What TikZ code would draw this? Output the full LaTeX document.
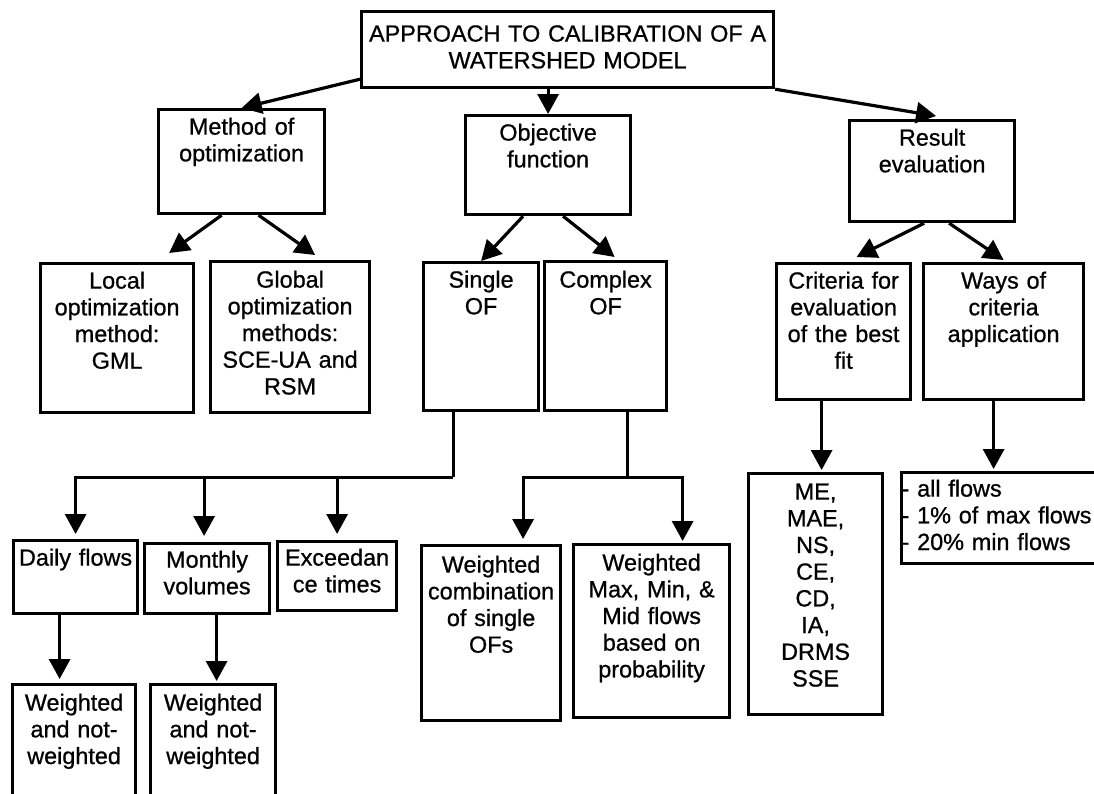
\documentclass[tikz,border=0pt]{standalone}
\usepackage{fontspec}
\setmainfont[FakeBold=0.8]{Liberation Sans}
\usetikzlibrary{arrows.meta,calc}
\begin{document}
\begin{tikzpicture}[x=1pt,y=-1pt,
  block/.style={draw, line width=3.2pt, anchor=north west, inner xsep=0pt,
    inner ysep=0pt, align=center, text height=25pt,
    font=\fontsize{23.4pt}{26.7pt}\selectfont},
  conn/.style={line width=3.2pt},
  arr/.style={conn, -{Triangle[length=20pt,width=21pt]}}]

\useasboundingbox (0,0) rectangle (1094,793);
\fill[white] (0,0) rectangle (1094,793);
\clip (0,0) rectangle (1094,793);

% root
\node[block, text width=412pt, text height=30pt, text depth=46pt] (top) at (360,10)
  {APPROACH TO CALIBRATION OF A\\WATERSHED MODEL};

% second level
\node[block, text width=166pt, text depth=79pt] (meth) at (157,108) {Method of\\optimization};
\node[block, text width=165pt, text depth=74pt] (obj) at (464,114) {Objective\\function};
\node[block, text width=165pt, text depth=76pt] (res) at (848,119) {Result\\evaluation};

% third level
\node[block, text width=153pt, text depth=124pt] (loc) at (39,262)
  {Local\\optimization\\method:\\GML};
\node[block, text width=159pt, text height=26pt, text depth=125pt] (glob) at (209,260)
  {Global\\optimization\\methods:\\SCE-UA and\\RSM};
\node[block, text width=115pt, text depth=123pt] (sgl) at (422,261) {Single\\OF};
\node[block, text width=122pt, text height=26pt, text depth=123pt] (cpx) at (543,260) {Complex\\OF};
\node[block, text width=134pt, text depth=111pt] (crit) at (775,262)
  {Criteria for\\evaluation\\of the best\\fit};
\node[block, text width=160pt, text depth=111pt] (ways) at (922,262)
  {Ways of\\criteria\\application};

% fourth level
\node[block, text width=124pt, text depth=48pt] (daily) at (12,539) {Daily flows};
\node[block, text width=125pt, text height=24pt, text depth=46pt] (mon) at (143,542) {Monthly\\volumes};
\node[block, text width=119pt, text height=24pt, text depth=45pt] (exc) at (276,540) {Exceedan\\ce times};
\node[block, text width=139pt, text height=27pt, text depth=148pt] (wcomb) at (420,544)
  {Weighted\\combination\\of single\\OFs};
\node[block, text width=156pt, text height=26pt, text depth=147pt] (wmax) at (572,543)
  {Weighted\\Max, Min, \&\\Mid flows\\based on\\probability};
\node[block, text width=134pt, text height=26pt, text depth=215pt] (me) at (747,472)
  {ME,\\MAE,\\NS,\\CE,\\CD,\\IA,\\DRMS\\SSE};
\node[block, align=left, text width=220pt, text height=24pt, text depth=67pt] (flows) at (900,471)
  {- all flows\\- 1\% of max flows\\- 20\% min flows};

% fifth level
\node[block, text width=123pt, text height=26pt, text depth=124pt] (wn1) at (11,683)
  {Weighted\\and not-\\weighted};
\node[block, text width=125pt, text height=26pt, text depth=124pt] (wn2) at (149,683)
  {Weighted\\and not-\\weighted};

% root to second level
\draw[arr] ([yshift=10pt]top.south west) -- (meth.north);
\draw[arr] (obj.north |- top.south) -- (obj.north);
\draw[arr] (top.south east) -- ([xshift=4pt,yshift=3pt]res.north);

% second to third level
\draw[arr] ([xshift=-20pt]meth.south) -- ([xshift=52pt,yshift=9pt]loc.north);
\draw[arr] ([xshift=17pt]meth.south) -- ([xshift=25pt,yshift=5pt]glob.north);
\draw[arr] ([xshift=-25pt]obj.south) -- (sgl.north);
\draw[arr] ([xshift=15pt]obj.south) -- ([xshift=9pt,yshift=3pt]cpx.north);
\draw[arr] ([xshift=-8pt]res.south) -- ([xshift=13pt,yshift=5pt]crit.north);
\draw[arr] ([xshift=17pt]res.south) -- ([yshift=2pt]ways.north);

% single OF branches
\coordinate (sbus) at ($(sgl.south)+(-28,65)$);
\coordinate (mtip) at ([xshift=-3pt,yshift=6pt]mon.north);
\draw[conn] ([xshift=-28pt]sgl.south) -- (sbus);
\draw[arr] (sbus) -| ([yshift=5pt]daily.north);
\draw[arr] (sbus -| mtip) -- (mtip);
\draw[arr] (sbus -| exc.north) -- ([yshift=6pt]exc.north);

% complex OF branches
\coordinate (cbus) at ($(cpx.south)+(22,65)$);
\coordinate (wctip) at ([xshift=32pt,yshift=5pt]wcomb.north);
\coordinate (wmtip) at ([xshift=31pt,yshift=2pt]wmax.north);
\draw[conn] ([xshift=22pt]cpx.south) -- (cbus);
\draw[arr] (cbus) -| (wctip);
\draw[arr] (cbus) -| (wmtip);

% lower arrows
\coordinate (d1) at ([xshift=-16pt]daily.south);
\draw[arr] (d1) -- ($(d1 |- wn1.north)+(0,-4)$);
\coordinate (m1) at ([xshift=9.5pt]mon.south);
\draw[arr] (m1) -- ($(m1 |- wn2.north)+(0,-2)$);
\coordinate (c1) at ([xshift=-22pt]crit.south);
\draw[arr] (c1) -- ($(c1 |- me.north)+(0,-2)$);
\coordinate (w1) at ([xshift=-10pt]ways.south);
\draw[arr] (w1) -- ($(w1 |- flows.north)+(0,-2)$);
\end{tikzpicture}
\end{document}
